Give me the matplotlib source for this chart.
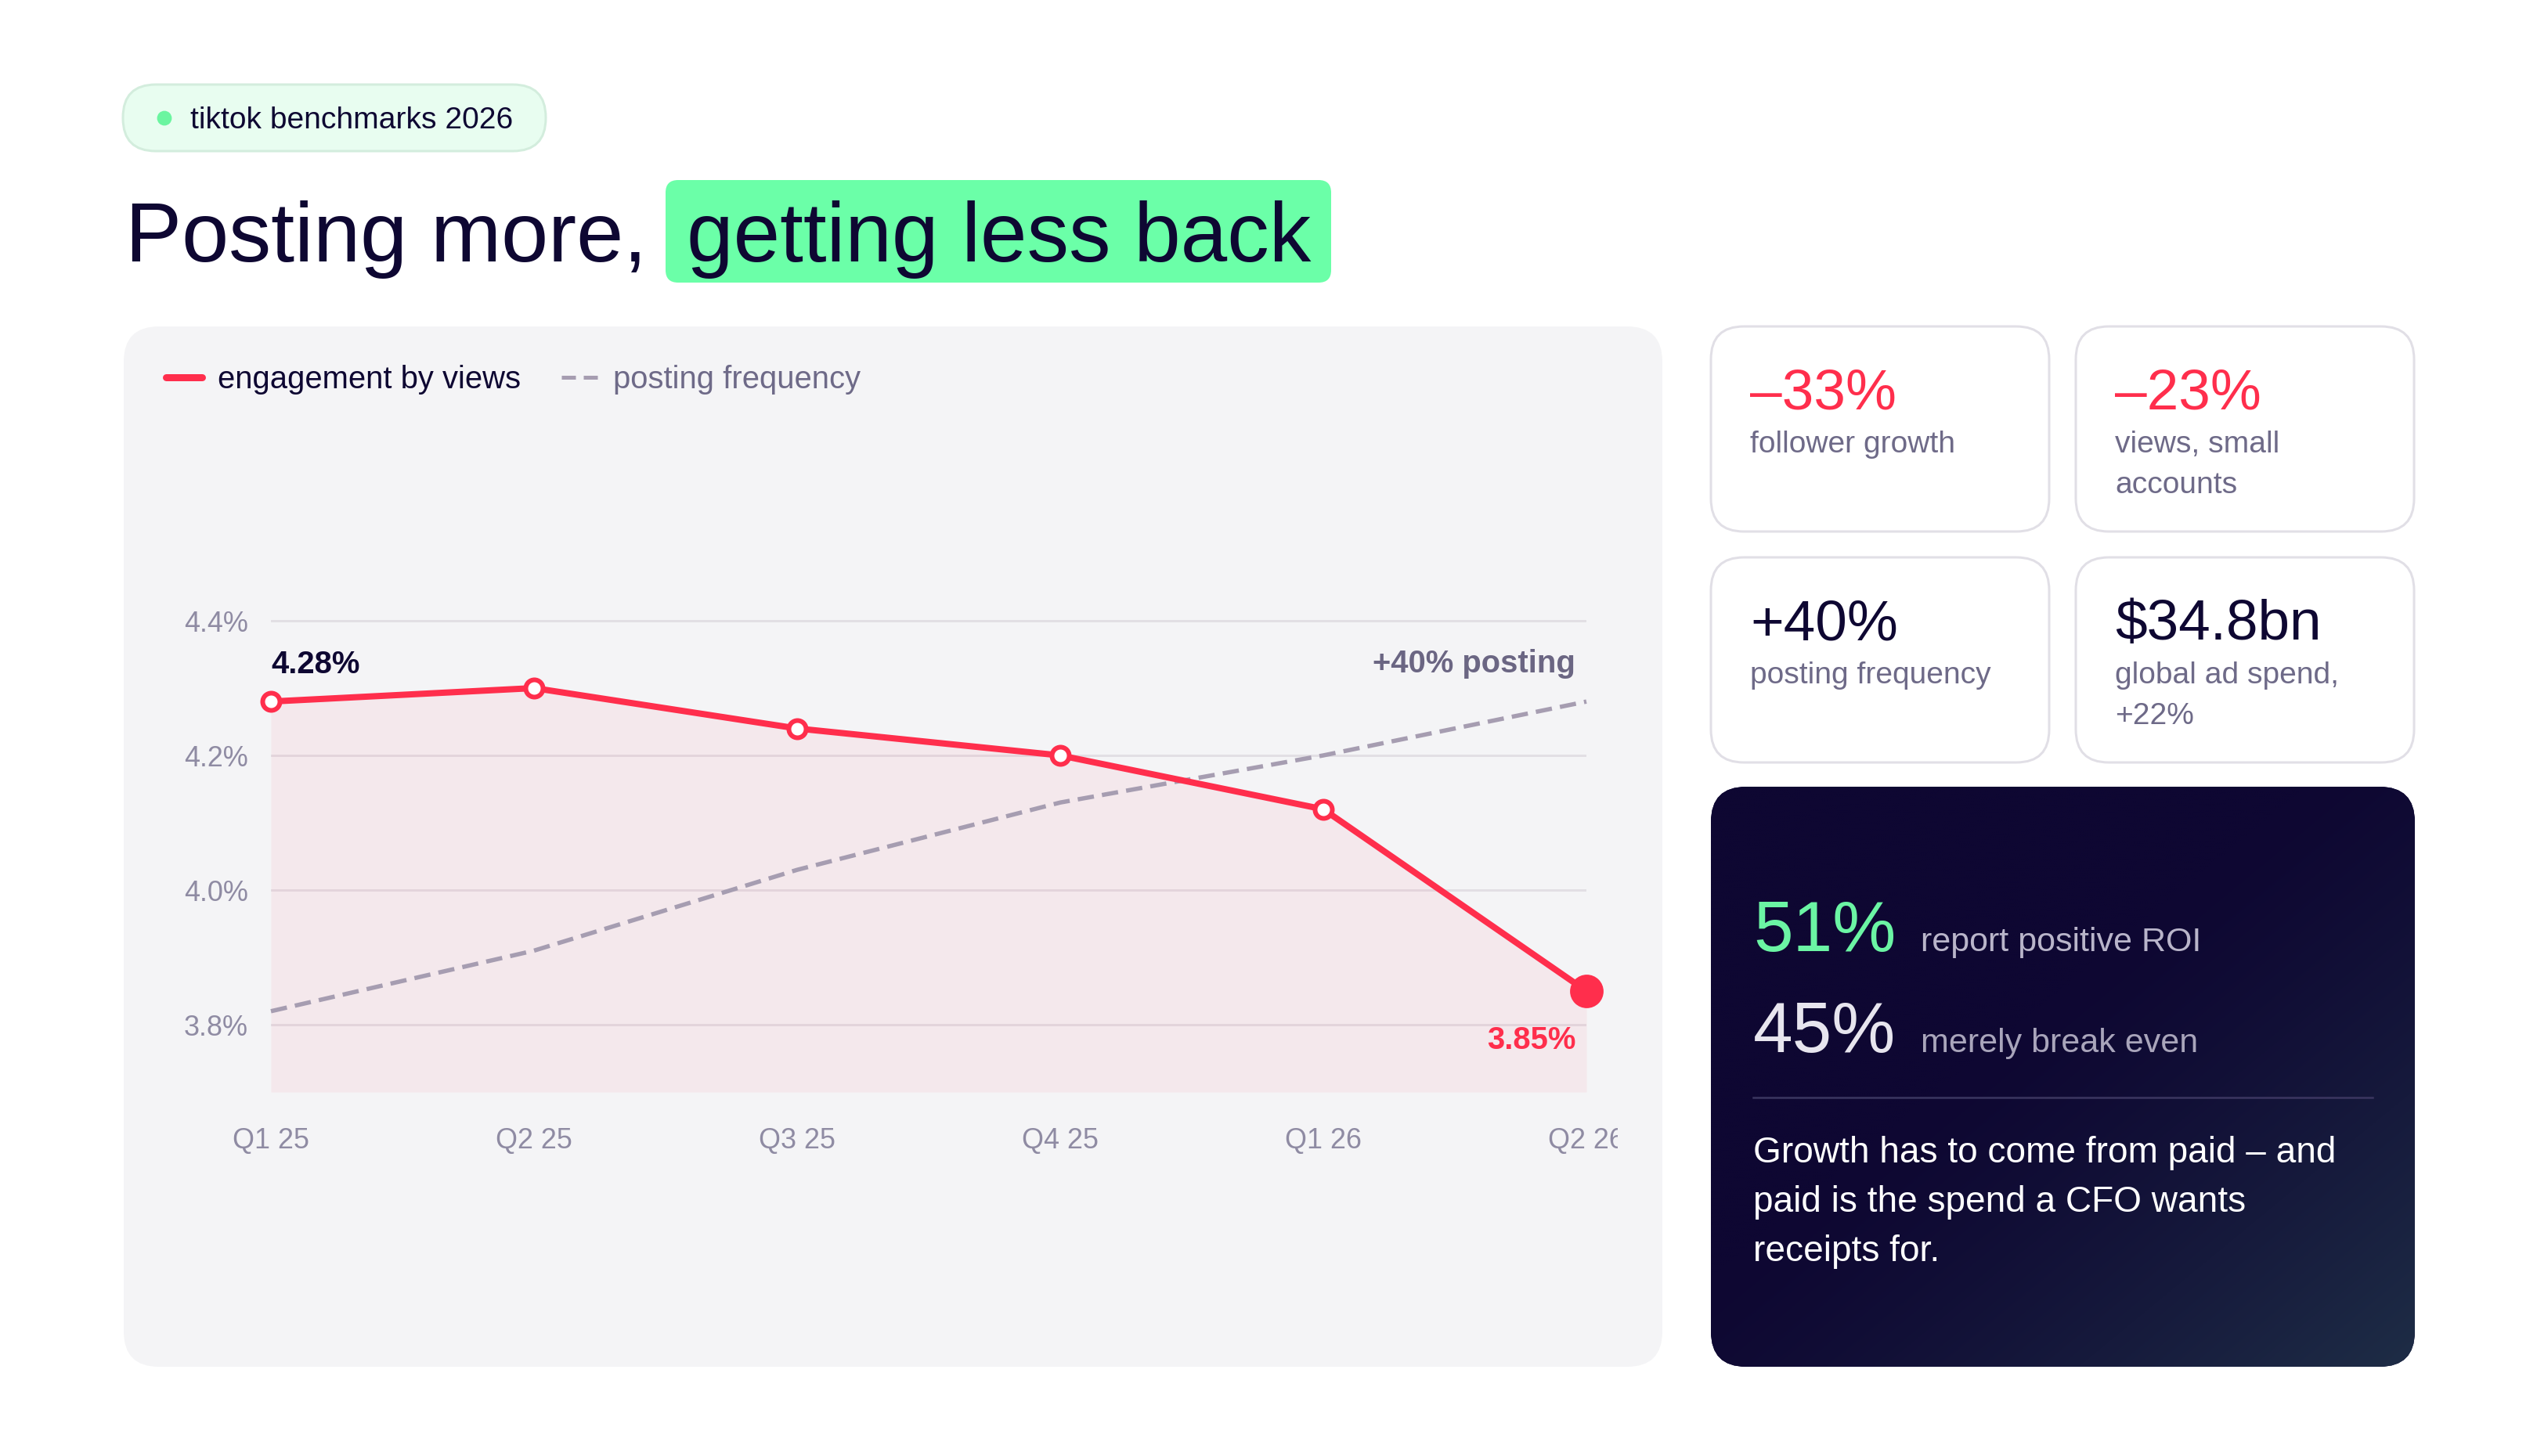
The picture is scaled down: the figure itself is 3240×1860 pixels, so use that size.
import matplotlib
matplotlib.use("Agg")
import matplotlib.pyplot as plt
import numpy as np
from matplotlib.patches import FancyBboxPatch, Circle
from matplotlib.lines import Line2D
from matplotlib.transforms import Bbox, TransformedBbox

plt.rcParams['font.family'] = ['Liberation Sans', 'DejaVu Sans']

# data
quarters = ["Q1 25", "Q2 25", "Q3 25", "Q4 25", "Q1 26", "Q2 26"]
engagement = [4.28, 4.30, 4.24, 4.20, 4.12, 3.85]
# posting frequency, drawn against the engagement scale
posting = [3.82, 3.91, 4.03, 4.13, 4.20, 4.28]
yticks = [3.8, 4.0, 4.2, 4.4]
ytick_labels = ["3.8%", "4.0%", "4.2%", "4.4%"]

stat_values = ["\u201333%", "\u201323%", "+40%", "$34.8bn"]
stat_labels = [["follower growth"], ["views, small", "accounts"],
               ["posting frequency"], ["global ad spend,", "+22%"]]
roi_values = ["51%", "45%"]
roi_labels = ["report positive ROI", "merely break even"]
body_lines = ["Growth has to come from paid \u2013 and",
              "paid is the spend a CFO wants",
              "receipts for."]

# colours
NAVY = "#0E0732"
GRAY = "#6E6A88"
TICK = "#8F8BA3"
RED = "#FF2E4C"
MINT = "#6BFFA8"
DASH = "#A69DB1"

W, H, DPI = 3240, 1860, 200


def pt(px):
    return px * 72 / DPI


fig = plt.figure(figsize=(W / DPI, H / DPI), dpi=DPI)
fig.patch.set_facecolor("white")

bg = fig.add_axes([0, 0, 1, 1])
bg.set_xlim(0, W)
bg.set_ylim(H, 0)
bg.axis("off")


def rbox(x0, y0, x1, y1, r, fc, ec="none", lw=0, z=1):
    p = FancyBboxPatch((x0, y0), x1 - x0, y1 - y0,
                       boxstyle=f"round,pad=0,rounding_size={r}",
                       fc=fc, ec=ec, lw=lw, zorder=z)
    bg.add_patch(p)
    return p


def txt(x, y, s, em, color, weight="normal", ha="left"):
    bg.text(x, y, s, fontsize=pt(em), color=color, fontweight=weight,
            ha=ha, va="baseline", zorder=5)


# badge
rbox(157, 108, 697, 193, 42, "#E8FDF0", ec="#D3EDDD", lw=pt(3))
bg.add_patch(Circle((210, 151), 8, color="#6BF5A0", zorder=3))
txt(243, 164, "tiktok benchmarks 2026", 39, NAVY)

# title
rbox(850, 230, 1700, 361, 16, MINT)
txt(160, 334, "Posting more,", 108, NAVY)
txt(877, 334, "getting less back", 107, NAVY)

# chart panel
rbox(158, 417, 2123, 1746, 45, "#F4F4F6")

# stat cards
card_x = [2185, 2651]
card_y = [417, 712]
for i in range(4):
    cx = card_x[i % 2]
    cy = card_y[i // 2]
    rbox(cx, cy, cx + 432, cy + 262, 42, "white", ec="#E1DFE6", lw=pt(3))
    col = RED if i < 2 else NAVY
    txt(cx + 50, cy + 105, stat_values[i], 73, col)
    for j, line in enumerate(stat_labels[i]):
        txt(cx + 50, cy + 161 + j * 52, line, 39, GRAY)

# dark panel with gradient
dark = rbox(2185, 1005, 3084, 1746, 45, "#0E0732", z=1)
gx = np.linspace(0, 1, 300)
gy = np.linspace(0, 1, 250)
u, v = np.meshgrid(gx, gy)
s = np.clip((u + v - 0.85) / 1.15, 0, 1) ** 1.3
c0 = np.array([14, 7, 50]) / 255
c1 = np.array([30, 45, 70]) / 255
img = c0 + s[..., None] * (c1 - c0)
im = bg.imshow(img, extent=(2185, 3084, 1746, 1005), origin="upper",
               aspect="auto", zorder=2, interpolation="bilinear")
im.set_clip_path(dark)
bg.set_xlim(0, W)
bg.set_ylim(H, 0)

txt(2239, 1215, roi_values[0], 91, "#6BF5A4")
txt(2453, 1215, roi_labels[0], 43, "#B9B5CA")
txt(2239, 1344, roi_values[1], 91, "#E7E5EE")
txt(2453, 1344, roi_labels[1], 43, "#A9A5BB")
bg.plot([2239, 3030], [1402, 1402], color="#3B3660", lw=pt(2.5), zorder=4)
for k, line in enumerate(body_lines):
    txt(2239, 1485 + k * 63, line, 46, "white")

# line chart
ax = fig.add_axes([346 / W, 1 - 1395 / H, 1680 / W, (1395 - 664) / H])
ax.patch.set_alpha(0)
x = np.arange(len(quarters))
ax.set_xlim(0, len(quarters) - 1)
ax.set_ylim(3.70, 4.55)

ax.fill_between(x, engagement, 3.70, color=RED, alpha=0.06, lw=0, zorder=1)
ax.plot(x, posting, color=DASH, lw=pt(5.5), dashes=(3.8, 1.9),
        zorder=2, clip_on=False)
ax.plot(x, engagement, color=RED, lw=pt(8), zorder=3, clip_on=False,
        solid_joinstyle="round")
ax.plot(x[:-1], engagement[:-1], "o", ms=pt(22), mfc="white", mec=RED,
        mew=pt(6), zorder=4, clip_on=False)
ax.plot(x[-1:], engagement[-1:], "o", ms=pt(40), color=RED, zorder=4,
        clip_on=False)

ax.set_yticks(yticks)
ax.set_yticklabels(ytick_labels)
ax.set_xticks(x)
ax.set_xticklabels(quarters)
ax.grid(axis="y", color="#E2DFE4", lw=pt(3))
ax.set_axisbelow(True)
for sp in ax.spines.values():
    sp.set_visible(False)
ax.tick_params(length=0, colors=TICK, labelsize=pt(36))
ax.tick_params(axis="y", pad=pt(29))
ax.tick_params(axis="x", pad=pt(45))
clip = TransformedBbox(Bbox.from_extents(0, 0, 2066 / W, 1), fig.transFigure)
for lab in ax.get_xticklabels():
    lab.set_clip_box(clip)
    lab.set_clip_on(True)

ax.annotate(f"{engagement[0]:.2f}%", xy=(x[0], engagement[0]),
            xytext=(0, pt(36)), textcoords="offset points", ha="left",
            va="baseline", fontsize=pt(40), fontweight="bold", color=NAVY)
ax.annotate(f"{engagement[-1]:.2f}%", xy=(x[-1], engagement[-1]),
            xytext=(pt(-14), pt(-74)), textcoords="offset points", ha="right",
            va="baseline", fontsize=pt(40), fontweight="bold", color=RED)
ax.annotate("+40% posting", xy=(x[-1], posting[-1]),
            xytext=(pt(-14), pt(37)), textcoords="offset points", ha="right",
            va="baseline", fontsize=pt(40), fontweight="bold", color="#6B6683")

# legend
handles = [Line2D([], [], color=RED, lw=pt(9), solid_capstyle="round"),
           Line2D([], [], color=DASH, lw=pt(5), dashes=(3.6, 2))]
leg = fig.legend(handles, ["engagement by views", "posting frequency"],
                 loc="center left", bbox_to_anchor=(212 / W, 1 - 485 / H),
                 frameon=False, ncol=2, handlelength=1.15, handletextpad=0.5,
                 columnspacing=1.3, borderpad=0, borderaxespad=0,
                 fontsize=pt(40))
leg.get_texts()[0].set_color(NAVY)
leg.get_texts()[1].set_color(GRAY)

fig.savefig("out.png", dpi=DPI, facecolor="white")
